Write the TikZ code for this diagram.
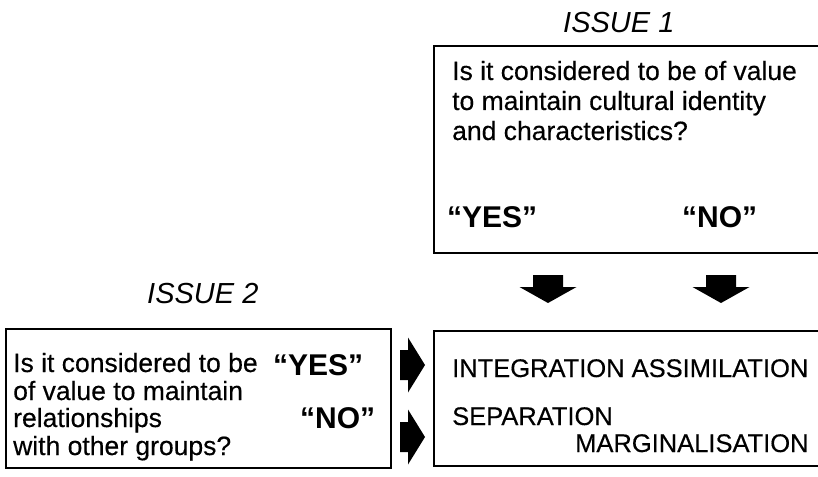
\documentclass[tikz,border=0pt]{standalone}
\usepackage{fontspec}
\setmainfont{Liberation Sans}
\newfontfamily\medsans{Liberation Sans}[FakeBold=0.35]
\usetikzlibrary{positioning}

\tikzset{
  qline/.style={anchor=base west,inner sep=0pt,font=\medsans\fontsize{26.5}{30}\selectfont},
  capline/.style={anchor=base west,inner sep=0pt,font=\medsans\fontsize{25.5}{30}\selectfont},
  answer/.style={anchor=base west,inner sep=0pt,font=\fontsize{30}{34}\selectfont\bfseries},
  issue/.style={anchor=base west,inner sep=0pt,font=\fontsize{29}{30}\selectfont\itshape},
  frame/.style={draw,line width=1.8pt,inner sep=0pt,anchor=north west}
}

\begin{document}
\begin{tikzpicture}[x=1pt,y=-1pt]
  \useasboundingbox (0,0) rectangle (818,476);
  \clip (0,0) rectangle (818,476);

  % issue 1
  \node[issue] (iss1) at (563,33) {ISSUE 1};
  \node[frame,minimum width=407pt,minimum height=207pt] (box1) at (433,45) {};
  \node[qline] (q1a) at (452,80) {Is it considered to be of value};
  \node[qline] (q1b) at (452,110) {to maintain cultural identity};
  \node[qline] (q1c) at (452,140) {and characteristics?};
  \node[answer] (yes1) at (447,227) {“YES”};
  \node[answer] (no1) at (682,227) {“NO”};

  % issue 2
  \node[issue] (iss2) at (147,303) {ISSUE 2};
  \node[frame,minimum width=385pt,minimum height=139pt] (box2) at (5,328) {};
  \node[qline] (q2a) at (13,372) {Is it considered to be};
  \node[qline] (q2b) at (13,400) {of value to maintain};
  \node[qline] (q2c) at (13,427) {relationships};
  \node[qline] (q2d) at (13,455) {with other groups?};
  \node[answer] (yes2) at (273,375) {“YES”};
  \node[answer] (no2) at (300,428) {“NO”};

  % outcomes
  \node[frame,minimum width=407pt,minimum height=135pt] (box3) at (433,330) {};
  \node[capline] (integ) at (452,377) {INTEGRATION ASSIMILATION};
  \node[capline] (separ) at (452,425) {SEPARATION};
  \node[capline] (margi) at (575,452) {MARGINALISATION};

  % block arrows
  \coordinate (yesdown) at (548,275);
  \coordinate (nodown) at (721,275);
  \coordinate (yesright) at (400,365);
  \coordinate (noright) at (400,437);
  \fill (yesdown) ++(-15,0) -- ++(30,0) -- ++(0,12) -- ++(13.5,0)
    -- ++(-28.5,16) -- ++(-28.5,-16) -- ++(13.5,0) -- cycle;
  \fill (nodown) ++(-15,0) -- ++(30,0) -- ++(0,12) -- ++(13.5,0)
    -- ++(-28.5,16) -- ++(-28.5,-16) -- ++(13.5,0) -- cycle;
  \fill (yesright) ++(0,-15) -- ++(8,0) -- ++(0,-12.5) -- ++(17,27.5)
    -- ++(-17,27.5) -- ++(0,-12.5) -- ++(-8,0) -- cycle;
  \fill (noright) ++(0,-15) -- ++(8,0) -- ++(0,-12.5) -- ++(17,27.5)
    -- ++(-17,27.5) -- ++(0,-12.5) -- ++(-8,0) -- cycle;
\end{tikzpicture}
\end{document}
